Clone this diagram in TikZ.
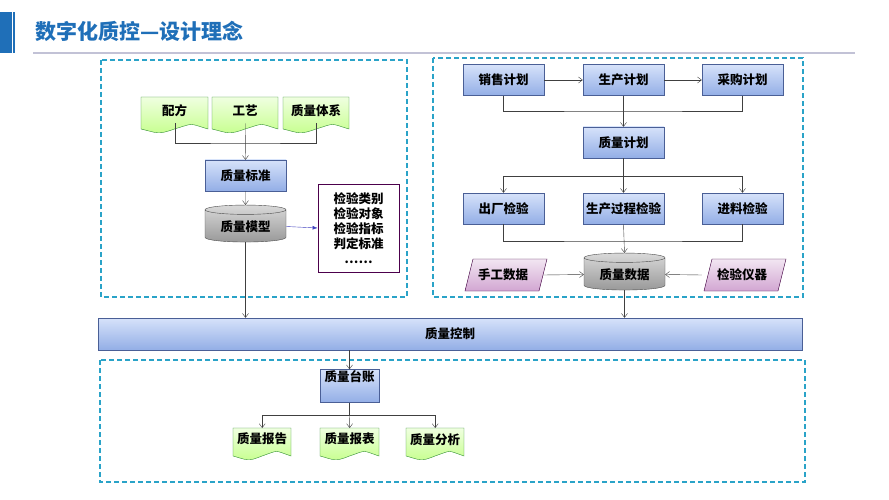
\documentclass[tikz,border=0pt]{standalone}
\usepackage{fontspec}
\setmainfont{Noto Sans CJK SC}
\usetikzlibrary{shapes.geometric,arrows.meta,shadows}
\definecolor{bl}{HTML}{1F6FB8}
\definecolor{dash}{HTML}{2AA3C8}
\definecolor{btop}{HTML}{D6E2FA}
\definecolor{bbot}{HTML}{93AEE6}
\definecolor{bdr}{HTML}{4A5F96}
\tikzset{
 x=1pt,y=-1pt,
 t/.style={font=\bfseries\fontsize{12.5}{14}\selectfont},
 bbox/.style={t,draw=bdr,top color=btop,bottom color=bbot,minimum height=31pt,inner sep=1pt,drop shadow={opacity=0.3,shadow xshift=1pt,shadow yshift=-1pt}},
 cyl/.style={t,cylinder,shape border rotate=90,aspect=0.18,draw=black!70,top color=white!85!black,bottom color=black!40,minimum width=81pt,minimum height=37pt,inner sep=1pt},
 docfill/.style={draw=black!40!green!60!gray,top color=green!50!yellow!12,bottom color=green!50!yellow!45!white},
 parfill/.style={draw=black!50!violet,top color=violet!10,bottom color=violet!35},
 box/.style={dash pattern=on 5pt off 3pt,draw=dash,line width=1.2pt},
 ar/.style={-{Straight Barb[length=4pt,width=6pt]},draw=black!75},
 ln/.style={draw=black!75}
}
\newcommand{\mydoc}[6]{% name, x0, y0, w, h, text
 \path[docfill] (#2,#3) -- ++(#4,0) -- ++(0,#5) .. controls +(-#4*0.3,-6) and +(#4*0.3,-6) .. ++(-#4*0.5,0) .. controls +(-#4*0.25,6) and +(#4*0.25,4) .. ++(-#4*0.5,0) -- cycle;
 \node[t,minimum width=#4pt,minimum height=#5pt-6pt,anchor=north west,inner sep=0pt] (#1) at (#2,#3) {#6};}
\newcommand{\mypar}[4]{% name, cx, cy, text
 \path[parfill] (#2-38,#3+16) -- (#2-30,#3-16) -- (#2+44,#3-16) -- (#2+36,#3+16) -- cycle;
 \node[t,minimum width=80pt,minimum height=32pt] (#1) at (#2,#3) {#4};}
\begin{document}
\begin{tikzpicture}
\useasboundingbox (0,0) rectangle (889,500);
\fill[white] (0,0) rectangle (889,500);
% title
\fill[bl] (0,12) rectangle (12,53);
\fill[bl] (13,12) rectangle (15,53);
\node[anchor=west,text=bl,font=\bfseries\fontsize{21}{24}\selectfont] (title) at (32,31) {数字化质控—设计理念};
\draw[blue!20!gray!40,line width=1.2pt] (33,53) -- (855,53);
% dashed boxes
\draw[box] (101,60) rectangle (407,297);
\draw[box] (433,58) rectangle (803,297);
\draw[box] (100,360) rectangle (805,482);
% left
\mydoc{pf}{141}{97}{67}{32}{配方}
\mydoc{gy}{212}{97}{66}{32}{工艺}
\mydoc{tx}{283}{97}{66}{32}{质量体系}
\node[bbox,minimum width=81pt] (bz) at (245.5,175.5) {质量标准};
\node[cyl] (mx) at (245.5,226.5) {质量模型};
\node[t,draw=violet!60!black,thick,minimum width=81pt,minimum height=88pt,align=center,font=\bfseries\fontsize{12.5}{15}\selectfont] (lb) at (358.5,228) {检验类别\\检验对象\\检验指标\\判定标准\\……};
\coordinate (j1) at (245,143);
\draw[ln] (pf.south) ++(0,0) |- (j1) -| (tx.south);
\draw[ar] (gy.south) -- (bz.north);
\draw[ar] (bz.south) -- (mx.north);
\draw[-{Latex[length=5pt]},draw=blue!50!gray] (mx.east) -- (lb.west);
% bar
\node[bbox,minimum width=704pt,minimum height=32pt] (kz) at (450,334) {质量控制};
\draw[ar] (mx.south) -- (mx.south |- kz.north);
% right
\node[bbox,minimum width=81pt] (xs) at (503.5,80) {销售计划};
\node[bbox,minimum width=81pt] (sc) at (623.5,80) {生产计划};
\node[bbox,minimum width=81pt] (cg) at (742.5,80) {采购计划};
\draw[ar] (xs) -- (sc);
\draw[ar] (sc) -- (cg);
\node[bbox,minimum width=81pt] (jh) at (623.5,142.5) {质量计划};
\coordinate (j2) at (623.5,111);
\draw[ln] (xs.south) |- (j2) -| (cg.south);
\draw[ar] (sc.south) -- (jh.north);
\node[bbox,minimum width=81pt] (cc) at (503.5,208.5) {出厂检验};
\node[bbox,minimum width=81pt] (gc) at (623.5,208.5) {生产过程检验};
\node[bbox,minimum width=81pt] (jl) at (742.5,208.5) {进料检验};
\coordinate (j3) at (623.5,176);
\draw[ln] (jh.south) -- (j3);
\draw[ar] (j3) -| (cc.north);
\draw[ar] (j3) -| (jl.north);
\draw[ar] (j3) -- (gc.north);
\node[cyl] (sj) at (624.5,274.5) {质量数据};
\coordinate (j4) at (623.5,241);
\draw[ln] (cc.south) |- (j4) -| (jl.south);
\draw[ar] (gc.south) -- (sj.north);
\mypar{sg}{503}{275}{手工数据}
\mypar{yq}{742}{275}{检验仪器}
\draw[ar] (sg.east) -- (sj.west);
\draw[ar] (yq.west) -- (sj.east);
\draw[ar] (sj.south) -- (sj.south |- kz.north);
% bottom
\node[bbox,minimum width=59pt,minimum height=32pt,text depth=20pt] (tz) at (349.5,386) {质量台账};
\draw[ar] (kz.south -| tz.north) -- (tz.north);
\mydoc{bg}{233}{428}{58}{28}{质量报告}
\mydoc{bb}{320}{428}{59}{28}{质量报表}
\mydoc{fx}{406}{428}{58}{28}{质量分析}
\coordinate (j5) at (349.5,415);
\draw[ln] (tz.south) -- (j5);
\draw[ar] (j5) -| (bg.north);
\draw[ar] (j5) -| (fx.north);
\draw[ar] (j5) -- (bb.north);
\end{tikzpicture}
\end{document}
